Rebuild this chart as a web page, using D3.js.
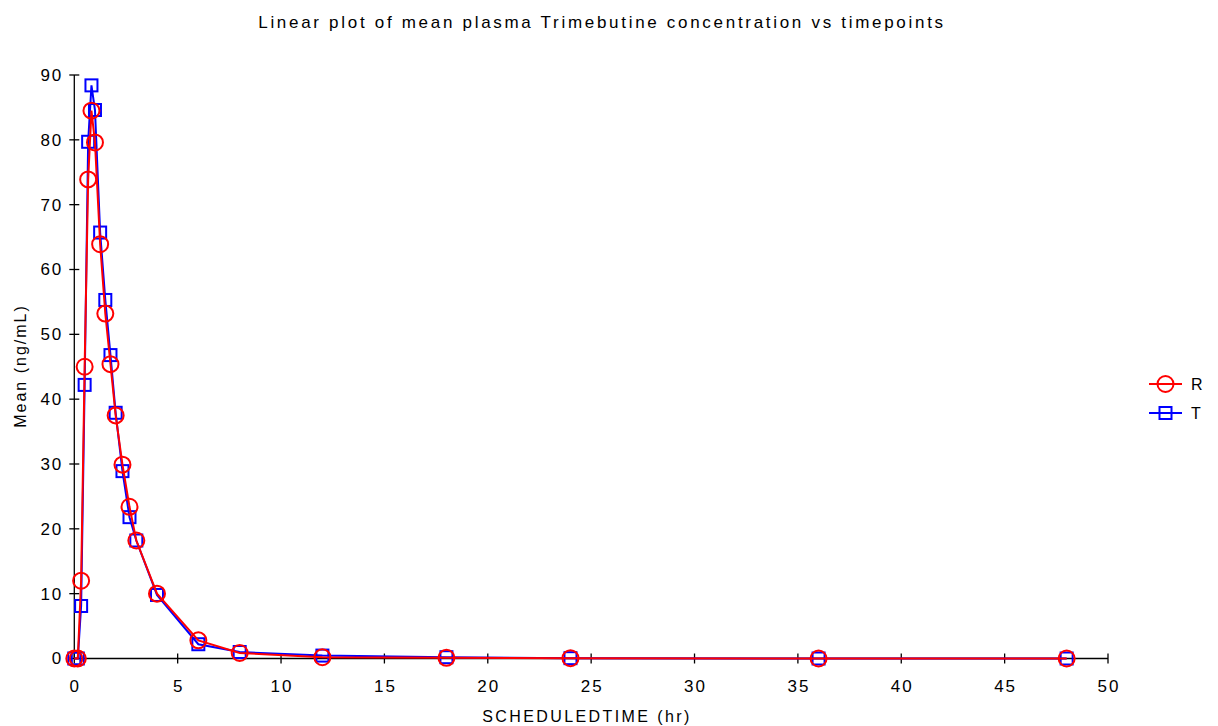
<!DOCTYPE html>
<html>
<head>
<meta charset="utf-8">
<script src="https://cdn.jsdelivr.net/npm/d3@7"></script>
<style>
  html, body { margin: 0; padding: 0; background: #fff; }
  svg { display: block; font-family: "Liberation Sans", Arial, sans-serif; }
</style>
</head>
<body>
<svg id="chart" width="1218" height="726"></svg>
<script>
const titleText = "Linear plot of mean plasma Trimebutine concentration vs timepoints";
const xTitle = "SCHEDULEDTIME (hr)";
const yTitle = "Mean (ng/mL)";
const seriesNames = ["R", "T"];
const times = [0, 0.17, 0.33, 0.5, 0.67, 0.83, 1, 1.25, 1.5, 1.75, 2, 2.33, 2.67, 3, 4, 6, 8, 12, 18, 24, 36, 48];
const valuesR = [0, 0, 12.0, 45.0, 73.9, 84.5, 79.6, 63.9, 53.2, 45.4, 37.5, 29.9, 23.4, 18.2, 10.0, 2.8, 0.85, 0.2, 0.1, 0.05, 0, 0];
const valuesT = [0, 0, 8.1, 42.2, 79.7, 88.4, 84.6, 65.7, 55.3, 46.8, 37.9, 28.9, 21.8, 18.2, 9.8, 2.2, 1.0, 0.45, 0.2, 0.05, 0, 0];
const xTicks = [0, 5, 10, 15, 20, 25, 30, 35, 40, 45, 50];
const yTicks = [0, 10, 20, 30, 40, 50, 60, 70, 80, 90];

const svg = d3.select("#chart");
const x = d3.scaleLinear().domain([0, 50]).range([74.3, 1108]);
const y = d3.scaleLinear().domain([0, 90]).range([658.5, 75]);

// Title
svg.append("text").attr("x", 602).attr("y", 28).attr("text-anchor", "middle")
  .attr("font-size", 17).attr("letter-spacing", 2.7).attr("fill", "#000").text(titleText);

// Axes
const xAxisG = svg.append("g").attr("transform", `translate(0,${y(0)})`);
xAxisG.append("line").attr("x1", x(0)).attr("x2", x(50)).attr("stroke", "#000").attr("stroke-width", 1.3);
xAxisG.selectAll("line.t").data(xTicks).enter().append("line").attr("class", "t")
  .attr("x1", d => x(d)).attr("x2", d => x(d)).attr("y1", -5).attr("y2", 5)
  .attr("stroke", "#000").attr("stroke-width", 1.3);
xAxisG.selectAll("text").data(xTicks).enter().append("text")
  .attr("x", d => x(d) + 1).attr("y", 33).attr("text-anchor", "middle")
  .attr("font-size", 17).attr("letter-spacing", 2).attr("fill", "#000").text(d => d);

const yAxisG = svg.append("g").attr("transform", `translate(${x(0)},0)`);
yAxisG.append("line").attr("y1", y(0)).attr("y2", y(90)).attr("stroke", "#000").attr("stroke-width", 1.3);
yAxisG.selectAll("line.t").data(yTicks).enter().append("line").attr("class", "t")
  .attr("y1", d => y(d)).attr("y2", d => y(d)).attr("x1", -5).attr("x2", 5)
  .attr("stroke", "#000").attr("stroke-width", 1.3);
yAxisG.selectAll("text").data(yTicks).enter().append("text")
  .attr("x", -11).attr("y", d => y(d)).attr("dy", "0.35em").attr("text-anchor", "end")
  .attr("font-size", 17).attr("letter-spacing", 2).attr("fill", "#000").text(d => d);

svg.append("text").attr("x", 587).attr("y", 722).attr("text-anchor", "middle")
  .attr("font-size", 16).attr("letter-spacing", 2.4).attr("fill", "#000").text(xTitle);
svg.append("text").attr("transform", `translate(26,366) rotate(-90)`).attr("text-anchor", "middle")
  .attr("font-size", 16).attr("letter-spacing", 2).attr("fill", "#000").text(yTitle);

// Series
const line = d3.line().x(d => x(d[0])).y(d => y(d[1]));
const dataT = times.map((t, i) => [t, valuesT[i]]);
const dataR = times.map((t, i) => [t, valuesR[i]]);

function drawSquare(g, cx, cy, color) {
  g.append("rect").attr("x", cx - 6).attr("y", cy - 6).attr("width", 12).attr("height", 12)
    .attr("fill", "none").attr("stroke", color).attr("stroke-width", 2);
}
function drawCircle(g, cx, cy, color) {
  g.append("circle").attr("cx", cx).attr("cy", cy).attr("r", 8)
    .attr("fill", "none").attr("stroke", color).attr("stroke-width", 2);
}

const gT = svg.append("g");
gT.append("path").datum(dataT).attr("d", line).attr("fill", "none").attr("stroke", "#0000ff").attr("stroke-width", 2);
dataT.forEach(d => drawSquare(gT, x(d[0]), y(d[1]), "#0000ff"));

const gR = svg.append("g");
gR.append("path").datum(dataR).attr("d", line).attr("fill", "none").attr("stroke", "#ff0000").attr("stroke-width", 2);
dataR.forEach(d => drawCircle(gR, x(d[0]), y(d[1]), "#ff0000"));

// Legend
const legend = [{name: seriesNames[0], color: "#ff0000", y: 384, shape: "circle"},
                {name: seriesNames[1], color: "#0000ff", y: 413, shape: "square"}];
legend.forEach(l => {
  const g = svg.append("g");
  g.append("line").attr("x1", 1149).attr("x2", 1182).attr("y1", l.y).attr("y2", l.y)
    .attr("stroke", l.color).attr("stroke-width", 2);
  if (l.shape === "circle") drawCircle(g, 1165.5, l.y, l.color);
  else drawSquare(g, 1165.5, l.y, l.color);
  g.append("text").attr("x", 1191).attr("y", l.y).attr("dy", "0.35em")
    .attr("font-size", 16).attr("fill", "#000").text(l.name);
});
</script>
</body>
</html>
